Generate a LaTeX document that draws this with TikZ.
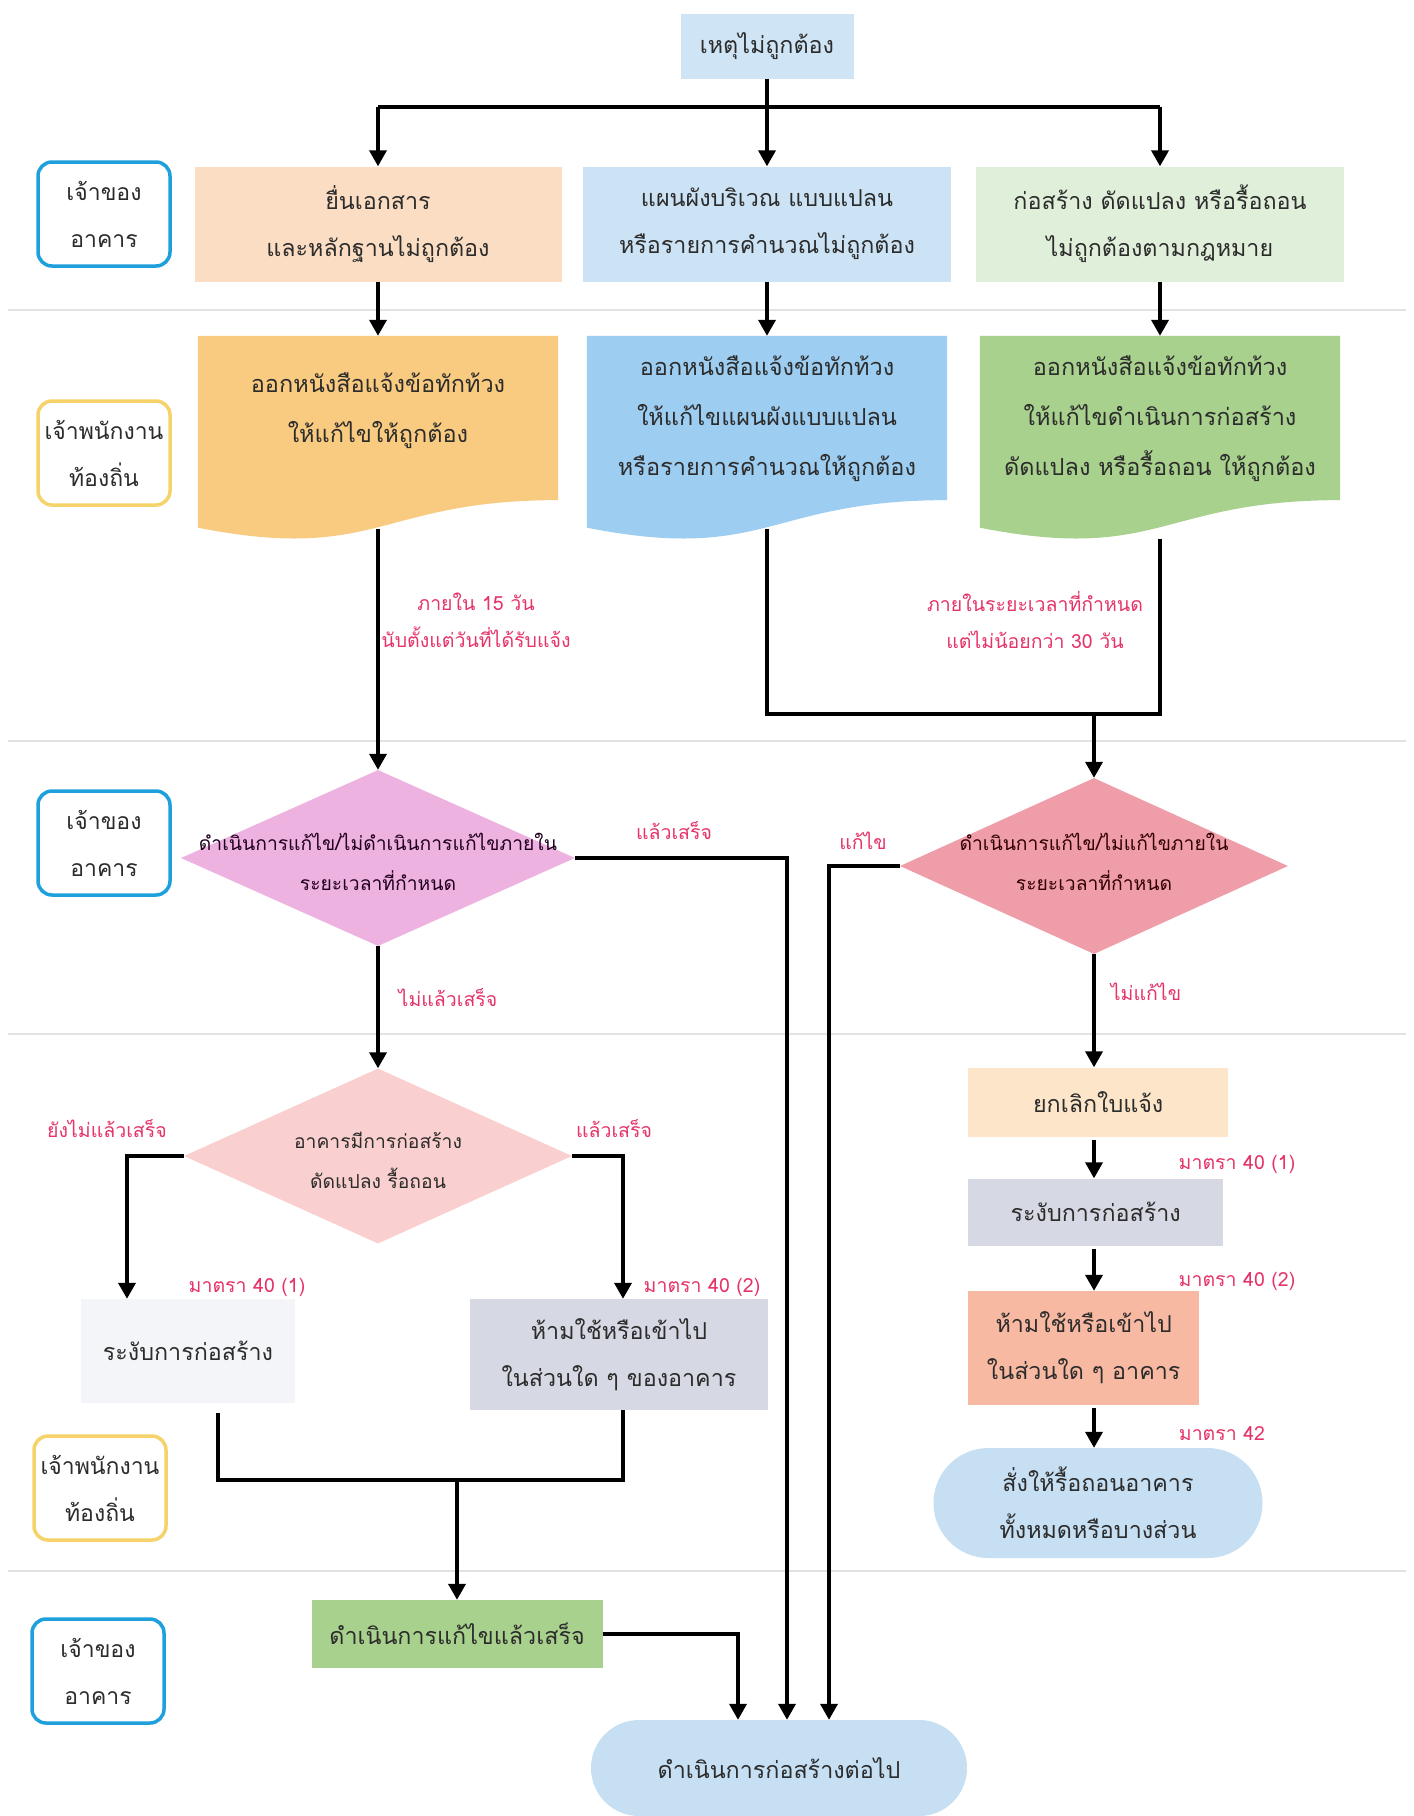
\documentclass[tikz,border=0pt]{standalone}
\usepackage{fontspec}
\setmainfont[Script=Thai]{Loma}
\usetikzlibrary{arrows.meta,shapes.geometric,calc}
\definecolor{topc}{HTML}{CFE4F4}
\definecolor{peach}{HTML}{FBDDC3}
\definecolor{lblue}{HTML}{CCE3F5}
\definecolor{lgreen}{HTML}{E0EFDA}
\definecolor{orng}{HTML}{F9CB80}
\definecolor{mblue}{HTML}{9DCDF0}
\definecolor{mgreen}{HTML}{A9D18E}
\definecolor{dpink}{HTML}{EDB2DF}
\definecolor{dsalm}{HTML}{EE9DA9}
\definecolor{dlpink}{HTML}{F9D0CF}
\definecolor{vlight}{HTML}{F3F5F9}
\definecolor{grayb}{HTML}{D6D9E3}
\definecolor{ypeach}{HTML}{FCE5C8}
\definecolor{salm}{HTML}{F8B9A2}
\definecolor{ovalc}{HTML}{C6DFF3}
\definecolor{laneb}{HTML}{1EA0DC}
\definecolor{laney}{HTML}{F6D36A}
\definecolor{redl}{HTML}{E63468}
\definecolor{txt}{HTML}{2C2C2C}
\definecolor{sep}{HTML}{E2E2E2}
\newcommand\fsMain{\fontsize{23.3}{47}\selectfont}
\newcommand\fsDoc{\fontsize{23.5}{50}\selectfont}
\newcommand\fsRed{\fontsize{19.5}{37}\selectfont}
\newcommand\fsDia{\fontsize{19.3}{40}\selectfont}
\newcommand\fsLane{\fontsize{23}{47}\selectfont}
\newcommand\docfill[2]{%
  \fill[#2] (#1.north west) -- (#1.north east) -- ($(#1.north east)!0.8!(#1.south east)$)
    .. controls ($(#1.north)!0.8!(#1.south)$) and ($(#1.north)!1.107!(#1.south)$)
    .. ($(#1.north west)!0.934!(#1.south west)$) -- cycle;}
\begin{document}
\begin{tikzpicture}[x=1pt,y=-1pt,
  box/.style={rectangle, inner sep=0pt, align=center, font=\fsMain, text=txt},
  docbox/.style={rectangle, inner sep=0pt, minimum width=360pt, minimum height=205pt},
  doctext/.style={align=center, font=\fsDoc, text=txt, inner sep=0pt},
  lane/.style={rectangle, rounded corners=14pt, line width=3.5pt, fill=white,
    minimum width=132pt, minimum height=104pt, align=center, font=\fsLane, text=txt, inner sep=0pt},
  lab/.style={text=redl, font=\fsRed, align=center, inner sep=0pt},
  dia/.style={diamond, inner sep=0pt, aspect=2.2},
  diatext/.style={align=center, font=\fsDia, inner sep=0pt},
  ln/.style={line width=3.6pt},
  arr/.style={line width=3.6pt, -{Triangle[length=16pt,width=17pt]}},
  sepl/.style={draw=sep, line width=1.3pt}]
\useasboundingbox[fill=white] (0,0) rectangle (1414,1816);

% separators
\draw[sepl] (8,310) -- (1406,310);
\draw[sepl] (8,741) -- (1406,741);
\draw[sepl] (8,1034) -- (1406,1034);
\draw[sepl] (8,1571) -- (1406,1571);

% lanes
\node[lane, draw=laneb] (La1) at (104,214) {เจ้าของ\\อาคาร};
\node[lane, draw=laney] (La2) at (104,453) {เจ้าพนักงาน\\ท้องถิ่น};
\node[lane, draw=laneb] (La3) at (104,843) {เจ้าของ\\อาคาร};
\node[lane, draw=laney] (La4) at (100,1488) {เจ้าพนักงาน\\ท้องถิ่น};
\node[lane, draw=laneb] (La5) at (98,1671) {เจ้าของ\\อาคาร};

% top
\node[box, fill=topc, minimum width=173pt, minimum height=65pt] (T) at (767,46) {เหตุไม่ถูกต้อง};

% row 1
\node[box, fill=peach, minimum width=367pt, minimum height=115pt] (A1) at (378,224) {ยื่นเอกสาร\\และหลักฐานไม่ถูกต้อง};
\node[box, fill=lblue, minimum width=368pt, minimum height=115pt] (B1) at (767,224) {แผนผังบริเวณ แบบแปลน\\หรือรายการคำนวณไม่ถูกต้อง};
\node[box, fill=lgreen, minimum width=368pt, minimum height=115pt] (C1) at (1160,224) {ก่อสร้าง ดัดแปลง หรือรื้อถอน\\ไม่ถูกต้องตามกฎหมาย};

% row 2 documents
\node[docbox] (A2) at (378,438.5) {};
\node[docbox] (B2) at (767,438.5) {};
\node[docbox] (C2) at (1160,438.5) {};
\docfill{A2}{orng}
\docfill{B2}{mblue}
\docfill{C2}{mgreen}
\node[doctext] (A2t) at (378,411) {ออกหนังสือแจ้งข้อทักท้วง\\ให้แก้ไขให้ถูกต้อง};
\node[doctext] (B2t) at (767,419) {ออกหนังสือแจ้งข้อทักท้วง\\ให้แก้ไขแผนผังแบบแปลน\\หรือรายการคำนวณให้ถูกต้อง};
\node[doctext] (C2t) at (1160,419) {ออกหนังสือแจ้งข้อทักท้วง\\ให้แก้ไขดำเนินการก่อสร้าง\\ดัดแปลง หรือรื้อถอน ให้ถูกต้อง};
\coordinate (A2b) at ($(A2.north)!0.94!(A2.south)$);
\coordinate (B2b) at ($(B2.north)!0.94!(B2.south)$);
\coordinate (C2b) at ($(C2.north)!0.99!(C2.south)$);

% diamonds
\node[dia, fill=dpink, minimum width=394pt, minimum height=176pt] (D1) at (378,858) {};
\node[diatext, text=black!75!violet] (D1t) at (378,862) {ดำเนินการแก้ไข/ไม่ดำเนินการแก้ไขภายใน\\ระยะเวลาที่กำหนด};
\node[dia, fill=dsalm, minimum width=388pt, minimum height=176pt] (D2) at (1094,866) {};
\node[diatext, text=black!80!red] (D2t) at (1094,862) {ดำเนินการแก้ไข/ไม่แก้ไขภายใน\\ระยะเวลาที่กำหนด};
\node[dia, fill=dlpink, minimum width=388pt, minimum height=175pt] (D3) at (378,1156) {};
\node[diatext, text=txt] (D3t) at (378,1160) {อาคารมีการก่อสร้าง\\ดัดแปลง รื้อถอน};

% left lower boxes
\node[box, fill=vlight, minimum width=214pt, minimum height=104pt] (L) at (188,1351) {ระงับการก่อสร้าง};
\node[box, fill=grayb, minimum width=298pt, minimum height=111pt] (Rb) at (619,1354.5) {ห้ามใช้หรือเข้าไป\\ในส่วนใด ๆ ของอาคาร};
\node[box, fill=mgreen, minimum width=291pt, minimum height=68pt] (G) at (457,1634) {ดำเนินการแก้ไขแล้วเสร็จ};
\node[box, fill=ovalc, rounded corners=48pt, minimum width=376pt, minimum height=96pt] (F) at (779,1768) {ดำเนินการก่อสร้างต่อไป};

% right column
\node[box, fill=ypeach, anchor=west, minimum width=260pt, minimum height=69pt] (R1) at (968,1102) {ยกเลิกใบแจ้ง};
\node[box, fill=grayb, anchor=west, minimum width=255pt, minimum height=67pt] (R2) at (968,1212) {ระงับการก่อสร้าง};
\node[box, fill=salm, anchor=west, minimum width=231pt, minimum height=114pt] (R3) at (968,1348) {ห้ามใช้หรือเข้าไป\\ในส่วนใด ๆ อาคาร};
\node[box, fill=ovalc, rounded corners=55pt, minimum width=329pt, minimum height=110pt] (R4) at (1098,1503) {สั่งให้รื้อถอนอาคาร\\ทั้งหมดหรือบางส่วน};

% connectors top
\coordinate (hM) at (767,107);
\draw[ln] (T.south) -- (hM);
\draw[ln] (A1.north |- hM) -- (C1.north |- hM);
\draw[arr] (A1.north |- hM) -- (A1.north);
\draw[arr] (hM) -- (B1.north);
\draw[arr] (C1.north |- hM) -- (C1.north);
\draw[arr] (A1.south) -- (A2.north);
\draw[arr] (B1.south) -- (B2.north);
\draw[arr] (C1.south) -- (C2.north);

% row2 to diamonds
\draw[arr] (A2b) -- (D1.north);
\coordinate (J) at (1094,714);
\draw[ln] (B2b) -- (B2b |- J) -- (C2b |- J) -- (C2b);
\draw[arr] (J) -- (D2.north);
\node[lab] (lab1) at (476,620) {ภายใน 15 วัน\\นับตั้งแต่วันที่ได้รับแจ้ง};
\node[lab] (lab2) at (1035,620) {ภายในระยะเวลาที่กำหนด\\แต่ไม่น้อยกว่า 30 วัน};

% diamond outputs
\draw[arr] (D1.east) -| ([xshift=8pt]F.north);
\node[lab] (lab3) at (674,831) {แล้วเสร็จ};
\draw[arr] (D2.west) -| ([xshift=50pt]F.north);
\node[lab] (lab4) at (863,841) {แก้ไข};
\draw[arr] (D1.south) -- (D3.north);
\node[lab] (lab5) at (448,998) {ไม่แล้วเสร็จ};
\draw[arr] (D2.south) -- (D2.south |- R1.north);
\node[lab] (lab6) at (1146,992) {ไม่แก้ไข};

% D3 outputs
\draw[arr] (D3.west) -| ([xshift=-61pt]L.north);
\node[lab] (lab7) at (107,1129) {ยังไม่แล้วเสร็จ};
\draw[arr] (D3.east) -| ([xshift=4pt]Rb.north);
\node[lab] (lab8) at (614,1129) {แล้วเสร็จ};
\node[lab] (lab9) at (247,1287) {มาตรา 40 (1)};
\node[lab] (lab10) at (702,1287) {มาตรา 40 (2)};

% merge
\coordinate (M) at (457,1480);
\draw[ln] ([xshift=30pt,yshift=-10pt]L.south) |- ([xshift=4pt]Rb.south |- M) -- ([xshift=4pt]Rb.south);
\draw[arr] (M) -- (G.north);
\draw[arr] (G.east) -| ([xshift=-41pt]F.north);

% right column arrows
\draw[arr] ([yshift=-3pt]D2.south |- R1.south) -- (D2.south |- R2.north);
\draw[arr] ([yshift=-3pt]D2.south |- R2.south) -- (D2.south |- R3.north);
\draw[arr] ([yshift=-3pt]D2.south |- R3.south) -- (D2.south |- R4.north);
\node[lab] (lab11) at (1237,1164) {มาตรา 40 (1)};
\node[lab] (lab12) at (1237,1281) {มาตรา 40 (2)};
\node[lab] (lab13) at (1222,1434) {มาตรา 42};
\end{tikzpicture}
\end{document}
